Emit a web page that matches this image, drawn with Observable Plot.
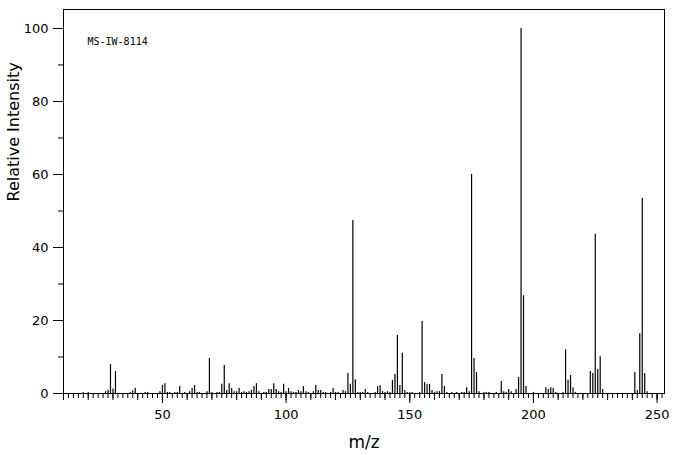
<!DOCTYPE html>
<html><head><meta charset="utf-8">
<script src="https://cdn.jsdelivr.net/npm/d3@7"></script>
<script src="https://cdn.jsdelivr.net/npm/@observablehq/plot@0.6"></script>
<style>body{margin:0;background:#fff} svg{display:block}</style>
</head><body><div id="chart"></div>
<script>
const mz = [18,20,27,28,29,30,31,37,38,39,43,44,49,50,51,52,53,55,56,57,59,61,62,63,64,65,68,69,70,72,73,74,75,76,77,78,79,80,81,82,83,84,85,86,87,88,89,91,92,93,94,95,96,97,98,99,100,101,102,103,104,105,106,107,108,109,111,112,113,114,115,116,118,119,120,121,123,124,125,126,127,128,129,130,131,132,133,136,137,138,139,140,141,142,143,144,145,146,147,148,149,150,151,154,155,156,157,158,159,160,161,162,163,164,165,167,169,171,172,173,174,175,176,177,178,180,181,182,185,187,188,189,190,191,193,194,195,196,197,200,205,206,207,208,209,212,213,214,215,216,217,223,224,225,226,227,228,241,242,243,244,245,246];
const intensity = [0.3,0.3,0.5,0.9,7.9,1.2,6.0,0.3,0.7,1.4,0.3,0.3,0.5,2.2,2.7,0.3,0.3,0.3,0.3,1.9,0.3,0.5,1.4,2.2,0.3,0.3,0.5,9.6,0.3,0.3,0.3,2.5,7.7,0.8,2.7,1.4,0.5,0.5,1.4,0.3,0.5,0.3,0.5,0.9,1.9,2.7,0.5,0.3,0.3,1.1,1.1,2.7,1.1,0.5,0.3,2.5,0.5,1.4,0.5,0.3,0.3,0.8,0.5,1.9,0.5,0.3,0.5,2.2,0.8,0.8,0.3,0.3,0.3,1.4,0.3,0.3,0.8,0.5,5.5,2.5,47.4,3.8,0.3,0.3,0.3,1.1,0.3,0.3,1.9,2.2,0.5,0.3,0.5,0.3,3.6,5.2,15.9,2.2,11.0,0.8,0.3,0.3,0.3,0.3,19.7,3.0,2.5,2.5,0.8,0.3,0.5,0.5,5.2,1.9,0.3,0.3,0.3,0.3,0.3,1.6,0.5,60.0,9.6,5.75,0.5,0.3,0.3,0.3,0.3,3.3,0.5,0.3,1.1,0.5,1.1,4.4,100,26.8,1.9,0.3,1.6,1.1,1.6,1.4,0.3,0.3,12.0,3.6,4.9,1.6,0.3,6.0,5.5,43.6,6.6,10.1,1.1,5.75,0.8,16.4,53.4,5.5,0.5];
const xLabelTicks = [50,100,150,200,250];
const yLabelTicks = [0,20,40,60,80,100];
const yMinorTicks = [10,30,50,70,90];
const spectrumId = "MS-IW-8114";
const xTitle = "m/z";
const yTitle = "Relative Intensity";

const peaks = mz.map((m, i) => ({mz: m, intensity: intensity[i]}));
const xMinorTicks = d3.range(10, 253, 2);
const xTenTicks = d3.range(10, 253, 10);
const none = () => "";

const chart = Plot.plot({
  width: 676, height: 455,
  marginLeft: 63, marginRight: 12, marginTop: 9, marginBottom: 62,
  x: {domain: [10, 253]},
  y: {domain: [0, 105.2]},
  style: {fontFamily: "DejaVu Sans", fontSize: "13px", color: "black", background: "white"},
  marks: [
    Plot.frame({stroke: "black", strokeWidth: 1}),
    Plot.axisX({ticks: xMinorTicks, tickSize: 5, tickFormat: none, label: null}),
    Plot.axisX({ticks: xTenTicks, tickSize: 7, tickFormat: none, label: null}),
    Plot.axisX({ticks: xLabelTicks, tickSize: 10, tickPadding: 6, label: null}),
    Plot.axisY({ticks: yMinorTicks, tickSize: 5, tickFormat: none, label: null}),
    Plot.axisY({ticks: yLabelTicks, tickSize: 10, tickPadding: 5, label: null}),
    Plot.ruleX(peaks, {x: "mz", y1: 0, y2: "intensity", stroke: "black", strokeWidth: 1.2}),
    Plot.text([spectrumId], {text: d => d, frameAnchor: "top-left", textAnchor: "start", lineAnchor: "top", dx: 24, dy: 28, fontFamily: "DejaVu Sans Mono", fontSize: 10}),
    Plot.text([yTitle], {text: d => d, frameAnchor: "left", rotate: -90, dx: -50, fontSize: 16}),
    Plot.text([xTitle], {text: d => d, frameAnchor: "bottom", lineAnchor: "bottom", dy: 54, fontSize: 17, letterSpacing: "4px"})
  ]
});
document.getElementById("chart").appendChild(chart);
</script>
</body></html>
